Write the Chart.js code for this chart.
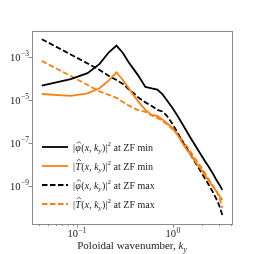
<!DOCTYPE html>
<html>
<head>
<meta charset="UTF-8" />
<style>
  body { margin: 0; background: #fff; }
  #wrap { position: relative; width: 259px; height: 254px; }
</style>
</head>
<body>
<div id="wrap"><canvas id="chart"></canvas></div>
<script src="https://cdn.jsdelivr.net/npm/chart.js@4.4.3"></script>
<script>
  // poloidal wavenumbers k_y of the plotted points
  const ky = [0.043, 0.086, 0.129, 0.172, 0.215, 0.258, 0.301, 0.344, 0.387, 0.43,
              0.516, 0.602, 0.688, 0.774, 0.86, 0.989, 1.118, 1.29, 1.505, 1.72,
              1.935, 2.15, 2.365, 2.58, 2.795, 3.01, 3.268];

  // log10 of the spectra
  const phiMinLog = [-4.31, -4.01, -3.73, -3.30, -2.76, -2.45, -2.79, -3.21, -3.53, -3.81,
                     -4.37, -4.44, -4.49, -4.70, -4.98, -5.35, -5.72, -6.19, -6.70, -7.12,
                     -7.49, -7.81, -8.09, -8.37, -8.65, -8.88, -9.16];
  const tMinLog   = [-4.70, -4.79, -4.67, -4.43, -4.07, -3.69, -4.05, -4.42, -4.74, -5.02,
                     -5.44, -5.67, -5.72, -5.88, -6.05, -6.28, -6.60, -7.07, -7.49, -7.86,
                     -8.16, -8.47, -8.74, -8.98, -9.19, -9.40, -9.63];
  const phiMaxLog = [-2.15, -2.86, -3.28, -3.58, -3.86, -4.05, -4.23, -4.47, -4.65, -4.84,
                     -5.09, -5.26, -5.44, -5.51, -5.70, -6.09, -6.51, -7.00, -7.47, -7.91,
                     -8.28, -8.63, -8.93, -9.23, -9.53, -9.84, -10.33];
  const tMaxLog   = [-3.16, -3.86, -4.28, -4.58, -4.74, -4.88, -5.07, -5.23, -5.35, -5.44,
                     -5.53, -5.70, -5.81, -5.95, -6.09, -6.33, -6.56, -6.93, -7.35, -7.74,
                     -8.05, -8.37, -8.67, -8.93, -9.16, -9.44, -10.00];

  const xMajor = [0.1, 1];
  const xMajorExp = ['\u22121', '0'];
  const xMinor = [0.04, 0.05, 0.06, 0.07, 0.08, 0.09, 2, 3, 4];
  const yMajor = [1e-3, 1e-5, 1e-7, 1e-9];
  const yMajorExp = ['\u22123', '\u22125', '\u22127', '\u22129'];

  const ORANGE = '#ff7f0e';
  const FONT = '"Liberation Serif", "DejaVu Serif", serif';

  const pts = logs => logs.map((v, i) => ({ x: ky[i], y: Math.pow(10, v) }));

  const series = [
    { logs: phiMinLog, color: '#000', dash: [], sym: 'phi', tail: ' at ZF min' },
    { logs: tMinLog, color: ORANGE, dash: [], sym: 'T', tail: ' at ZF min' },
    { logs: phiMaxLog, color: '#000', dash: [5.5, 2.5], sym: 'phi', tail: ' at ZF max' },
    { logs: tMaxLog, color: ORANGE, dash: [5.5, 2.5], sym: 'T', tail: ' at ZF max' }
  ];

  // 10 with a small raised exponent
  function drawPow(ctx, base, exp, x, y, align) {
    ctx.font = `10.5px ${FONT}`;
    const wb = ctx.measureText(base).width;
    ctx.font = `7.5px ${FONT}`;
    const we = ctx.measureText(exp).width;
    const w = wb + we + 0.5;
    let x0 = x;
    if (align === 'right') x0 = x - w;
    if (align === 'center') x0 = x - w / 2;
    ctx.textAlign = 'left';
    ctx.font = `10.5px ${FONT}`;
    ctx.fillText(base, x0, y);
    ctx.font = `7.5px ${FONT}`;
    ctx.fillText(exp, x0 + wb + 0.5, y - 4.5);
  }

  function txt(ctx, s, x, y, size, italic) {
    ctx.font = `${italic ? 'italic ' : ''}${size}px ${FONT}`;
    ctx.fillText(s, x, y);
    return x + ctx.measureText(s).width;
  }

  // |phî(x, k_y)|^2 at ZF ...
  function drawLabel(ctx, sym, tail, x, y) {
    const fs = 10;
    let cx = txt(ctx, '|', x, y, fs, false) + 0.3;
    const s0 = cx;
    cx = txt(ctx, sym === 'phi' ? '\u03c6' : 'T', cx, y, fs, true);
    const hx = (s0 + cx) / 2 + 0.8;
    const hy = y - (sym === 'phi' ? 8.8 : 10.2);
    ctx.beginPath();
    ctx.moveTo(hx - 2.1, hy + 1.6);
    ctx.lineTo(hx, hy);
    ctx.lineTo(hx + 2.1, hy + 1.6);
    ctx.lineWidth = 0.7;
    ctx.strokeStyle = ctx.fillStyle;
    ctx.stroke();
    cx = txt(ctx, '(', cx + 0.5, y, fs, false);
    cx = txt(ctx, 'x', cx, y, fs, true);
    cx = txt(ctx, ', ', cx, y, fs, false);
    cx = txt(ctx, 'k', cx, y, fs, true);
    cx = txt(ctx, 'y', cx, y + 2.5, 7, true);
    cx = txt(ctx, ')|', cx + 0.3, y, fs, false);
    cx = txt(ctx, '2', cx + 0.3, y - 4.3, 7, false);
    txt(ctx, tail, cx, y, fs, false);
  }

  const decor = {
    id: 'decor',
    afterDraw(chart) {
      const { ctx, chartArea: a, scales: { x, y } } = chart;
      ctx.save();
      ctx.strokeStyle = '#8c8c8c';
      ctx.lineWidth = 1;
      ctx.strokeRect(Math.round(a.left) + 0.5, Math.round(a.top) + 0.5,
                     Math.round(a.right - a.left), Math.round(a.bottom - a.top));

      ctx.fillStyle = '#222';
      ctx.textBaseline = 'alphabetic';
      ctx.beginPath();
      xMajor.forEach(v => {
        const px = Math.round(x.getPixelForValue(v)) + 0.5;
        ctx.moveTo(px, a.bottom); ctx.lineTo(px, a.bottom + 3.5);
      });
      xMinor.forEach(v => {
        const px = Math.round(x.getPixelForValue(v)) + 0.5;
        ctx.moveTo(px, a.bottom); ctx.lineTo(px, a.bottom + 2);
      });
      yMajor.forEach(v => {
        const py = Math.round(y.getPixelForValue(v)) + 0.5;
        ctx.moveTo(a.left, py); ctx.lineTo(a.left - 3.5, py);
      });
      ctx.stroke();

      xMajor.forEach((v, i) => drawPow(ctx, '10', xMajorExp[i], x.getPixelForValue(v), a.bottom + 13, 'center'));
      yMajor.forEach((v, i) => drawPow(ctx, '10', yMajorExp[i], a.left - 3, y.getPixelForValue(v) + 3.5, 'right'));

      // axis title
      const tfs = 11;
      ctx.font = `${tfs}px ${FONT}`;
      const t1 = 'Poloidal wavenumber, ';
      const w1 = ctx.measureText(t1).width;
      ctx.font = `italic ${tfs}px ${FONT}`;
      const wk = ctx.measureText('k').width;
      ctx.font = `italic 7.5px ${FONT}`;
      const wy = ctx.measureText('y').width;
      let tx = (a.left + a.right) / 2 - (w1 + wk + wy) / 2;
      tx = txt(ctx, t1, tx, a.bottom + 25, tfs, false);
      tx = txt(ctx, 'k', tx, a.bottom + 25, tfs, true);
      txt(ctx, 'y', tx, a.bottom + 27.5, 7.5, true);

      // legend
      series.forEach((s, i) => {
        const ly = a.top + 116 + i * 19;
        ctx.beginPath();
        ctx.setLineDash(s.dash);
        ctx.strokeStyle = s.color;
        ctx.lineWidth = 1.8;
        ctx.moveTo(a.left + 10, ly);
        ctx.lineTo(a.left + 36, ly);
        ctx.stroke();
        ctx.setLineDash([]);
        ctx.fillStyle = '#222';
        drawLabel(ctx, s.sym, s.tail, a.left + 41, ly + 3.5);
      });
      ctx.restore();
    }
  };

  new Chart(document.getElementById('chart'), {
    type: 'line',
    data: {
      datasets: series.map(s => ({
        data: pts(s.logs),
        borderColor: s.color,
        borderWidth: 1.8,
        borderDash: s.dash,
        pointRadius: 0,
        tension: 0,
        fill: false
      }))
    },
    options: {
      responsive: true,
      maintainAspectRatio: false,
      animation: false,
      events: [],
      layout: { padding: { left: 32, right: 27, top: 31, bottom: 30 } },
      plugins: { legend: { display: false }, tooltip: { enabled: false } },
      scales: {
        x: { type: 'logarithmic', min: 0.034, max: 4.12, display: false },
        y: { type: 'logarithmic', min: 1.8e-11, max: 0.017, display: false }
      }
    },
    plugins: [decor]
  });
</script>
</body>
</html>
